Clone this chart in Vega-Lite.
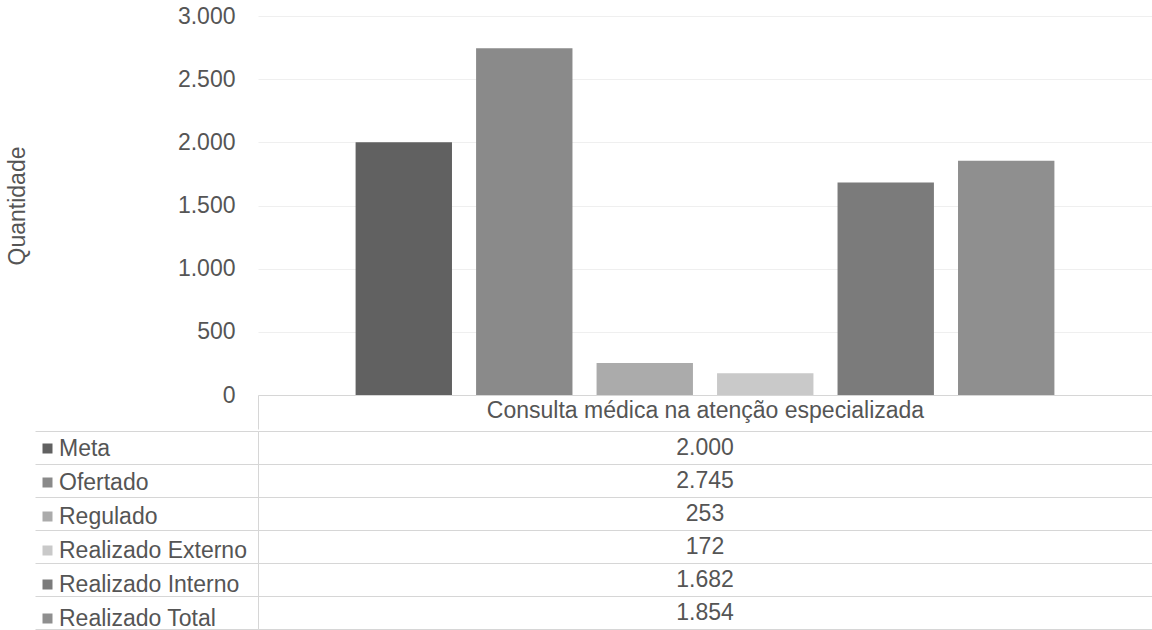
{
  "$schema": "https://vega.github.io/schema/vega-lite/v6.json",
  "background": "white",
  "padding": {"left": 6, "top": 5, "right": 0, "bottom": 0},
  "config": {
    "locale": {"number": {"decimal": ",", "thousands": ".", "grouping": [3], "currency": ["R$", ""]}},
    "font": "Liberation Sans",
    "view": {"stroke": null},
    "concat": {"spacing": 0}
  },
  "datasets": {
    "rows": [
      {"category": "Consulta médica na atenção especializada", "series": "Meta", "value": 2000},
      {"category": "Consulta médica na atenção especializada", "series": "Ofertado", "value": 2745},
      {"category": "Consulta médica na atenção especializada", "series": "Regulado", "value": 253},
      {"category": "Consulta médica na atenção especializada", "series": "Realizado Externo", "value": 172},
      {"category": "Consulta médica na atenção especializada", "series": "Realizado Interno", "value": 1682},
      {"category": "Consulta médica na atenção especializada", "series": "Realizado Total", "value": 1854}
    ]
  },
  "resolve": {"scale": {"color": "independent"}, "legend": {"color": "independent"}},
  "vconcat": [
    {
      "width": 894,
      "height": 379,
      "data": {"name": "rows"},
      "mark": {"type": "bar"},
      "encoding": {
        "x": {
          "field": "category", "type": "nominal",
          "scale": {"paddingInner": 0, "paddingOuter": 0},
          "axis": {
            "title": null, "labelAngle": 0, "labelFontSize": 23, "labelColor": "#555555",
            "labelPadding": -30, "labelLimit": 0,
            "domain": true, "domainColor": "#d6d6d6",
            "ticks": true, "tickBand": "extent", "tickSize": 34, "tickColor": "#d6d6d6"
          }
        },
        "xOffset": {
          "field": "series", "type": "nominal",
          "sort": ["Meta", "Ofertado", "Regulado", "Realizado Externo", "Realizado Interno", "Realizado Total"],
          "scale": {"paddingInner": 0.2, "paddingOuter": 0.81}
        },
        "y": {
          "field": "value", "type": "quantitative",
          "scale": {"domain": [0, 3000]},
          "axis": {
            "title": "Quantidade", "titleFontSize": 23, "titleFontWeight": "normal", "titleColor": "#555555",
            "titlePadding": 148,
            "values": [0, 500, 1000, 1500, 2000, 2500, 3000], "format": ",d",
            "labelFontSize": 23, "labelColor": "#555555", "labelPadding": 23,
            "ticks": false, "domain": false, "grid": true, "gridColor": "#efefef"
          }
        },
        "color": {
          "field": "series", "type": "nominal",
          "scale": {
            "domain": ["Meta", "Ofertado", "Regulado", "Realizado Externo", "Realizado Interno", "Realizado Total"],
            "range": ["#616161", "#8a8a8a", "#ababab", "#c9c9c9", "#7b7b7b", "#8f8f8f"]
          },
          "legend": null
        }
      }
    },
    {
      "width": 894,
      "height": 198,
      "view": {"stroke": "#d6d6d6"},
      "data": {"name": "rows"},
      "encoding": {
        "y": {
          "field": "series", "type": "nominal",
          "sort": ["Meta", "Ofertado", "Regulado", "Realizado Externo", "Realizado Interno", "Realizado Total"],
          "scale": {"paddingInner": 0, "paddingOuter": 0},
          "axis": {
            "title": null, "labels": false, "domain": false,
            "ticks": true, "tickBand": "extent", "tickSize": 223, "tickColor": "#d6d6d6",
            "grid": true, "gridColor": "#d6d6d6"
          }
        }
      },
      "layer": [
        {
          "mark": {"type": "text", "fontSize": 23, "color": "#555555", "baseline": "middle"},
          "encoding": {
            "text": {"field": "value", "type": "quantitative", "format": ",d"}
          }
        },
        {
          "transform": [{"filter": "datum.value < 0"}],
          "mark": {"type": "square"},
          "encoding": {
            "color": {
              "field": "series", "type": "nominal",
              "scale": {
                "domain": ["Meta", "Ofertado", "Regulado", "Realizado Externo", "Realizado Interno", "Realizado Total"],
                "range": ["#616161", "#8a8a8a", "#ababab", "#c9c9c9", "#7b7b7b", "#8f8f8f"]
              },
              "legend": {
                "orient": "none", "legendX": -222, "legendY": 6,
                "title": null, "symbolType": "square", "symbolSize": 100,
                "symbolStrokeWidth": 0, "symbolOpacity": 1,
                "labelFontSize": 23, "labelColor": "#555555", "labelLimit": 300,
                "rowPadding": 10, "labelOffset": 0, "padding": 0
              }
            }
          }
        }
      ]
    }
  ]
}
